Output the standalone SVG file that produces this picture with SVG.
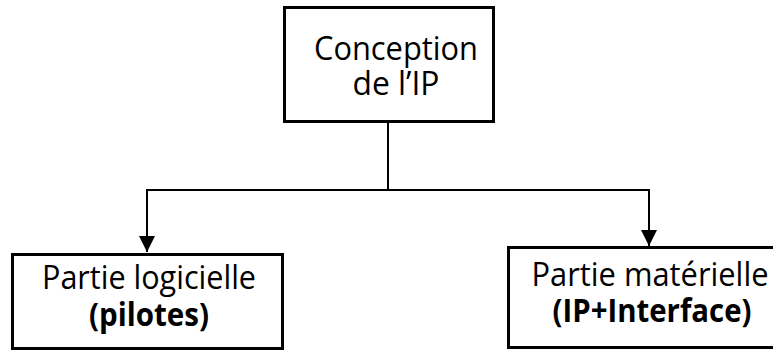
<svg xmlns="http://www.w3.org/2000/svg" width="773" height="352" viewBox="0 0 773 352">
  <defs>
    <style>
      .box { fill: #ffffff; stroke: #000000; stroke-width: 3; }
      .wire { fill: none; stroke: #000000; stroke-width: 2; }
      .lbl { font-family: "Open Sans", "Noto Sans", "Liberation Sans", sans-serif; font-size: 32px; fill: #000000; text-anchor: middle; font-variant-ligatures: none; }
      .bold { font-weight: bold; }
    </style>
    <marker id="arrow" markerUnits="userSpaceOnUse" markerWidth="18" markerHeight="18" refX="17" refY="9" orient="auto">
      <path d="M1,1 L17,9 L1,17 Z" fill="#000000"/>
    </marker>
  </defs>

  <rect width="773" height="352" fill="#ffffff"/>

  <!-- connectors: top box splits to both parts -->
  <g id="connectors">
    <path class="wire" d="M388,122 V190 H147 V252" marker-end="url(#arrow)"/>
    <path class="wire" d="M388,190 H649 V246" marker-end="url(#arrow)"/>
  </g>

  <g id="conception">
    <rect class="box" x="284.5" y="7.5" width="209" height="114"/>
    <text class="lbl" x="396" y="60" textLength="164" lengthAdjust="spacingAndGlyphs">Conception</text>
    <text class="lbl" x="396" y="95" textLength="87" lengthAdjust="spacingAndGlyphs">de l’IP</text>
  </g>

  <g id="logicielle">
    <rect class="box" x="12.5" y="254.5" width="270" height="94"/>
    <text class="lbl" x="149" y="289" textLength="214" lengthAdjust="spacingAndGlyphs">Partie logicielle</text>
    <text class="lbl bold" x="149" y="326" textLength="120" lengthAdjust="spacingAndGlyphs">(pilotes)</text>
  </g>

  <g id="materielle">
    <rect class="box" x="508.5" y="247.5" width="270" height="100"/>
    <text class="lbl" x="650" y="286" textLength="237" lengthAdjust="spacingAndGlyphs">Partie matérielle</text>
    <text class="lbl bold" x="652" y="322" textLength="199" lengthAdjust="spacingAndGlyphs">(IP+Interface)</text>
  </g>
</svg>
